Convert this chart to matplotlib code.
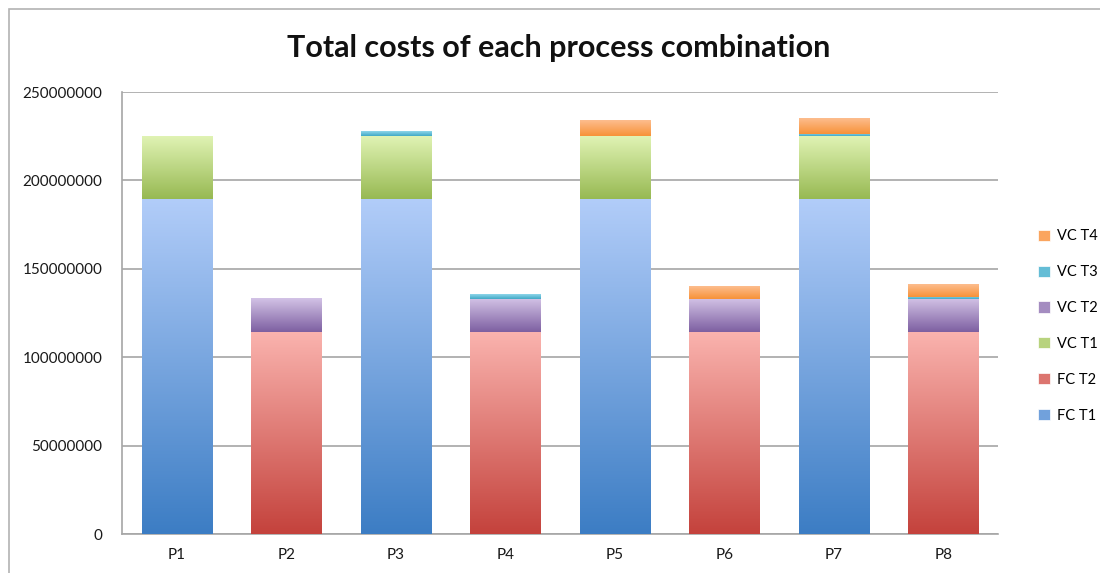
import numpy as np
import matplotlib
matplotlib.use("Agg")
import matplotlib.pyplot as plt
from matplotlib.colors import LinearSegmentedColormap
from matplotlib.patches import Rectangle

plt.rcParams["font.family"] = ["Lato", "DejaVu Sans"]

# Values
processes = ["P1", "P2", "P3", "P4", "P5", "P6", "P7", "P8"]
fc_t1 = [189.5e6, 0, 189.5e6, 0, 189.5e6, 0, 189.5e6, 0]
fc_t2 = [0, 114e6, 0, 114e6, 0, 114e6, 0, 114e6]
vc_t1 = [35.5e6, 0, 35.5e6, 0, 35.5e6, 0, 35.5e6, 0]
vc_t2 = [0, 19e6, 0, 19e6, 0, 19e6, 0, 19e6]
vc_t3 = [0, 0, 2.6e6, 2.3e6, 0, 0, 1.2e6, 1.2e6]
vc_t4 = [0, 0, 0, 0, 8.5e6, 7.0e6, 8.6e6, 7.3e6]

series = [
    ("FC T1", fc_t1, "#3c7dc4", "#b2cdf9"),
    ("FC T2", fc_t2, "#c4423c", "#fab3ae"),
    ("VC T1", vc_t1, "#97b952", "#e0f3b4"),
    ("VC T2", vc_t2, "#7d5fa1", "#d3c3e6"),
    ("VC T3", vc_t3, "#40a9c6", "#8fd6ea"),
    ("VC T4", vc_t4, "#f79238", "#fdbd8e"),
]

fig = plt.figure(figsize=(11, 5.73), dpi=100)
ax = fig.add_axes([122 / 1100, 1 - 534 / 573, 876 / 1100, 442 / 573])

# outer chart border
fig.patches.append(Rectangle((9 / 1100, -0.05), 1.2, 1 - 9 / 573 + 0.05,
                             transform=fig.transFigure, fill=False,
                             edgecolor="#b3b3b3", linewidth=1.2, zorder=0))

x = np.arange(len(processes))
width = 0.64
grad = np.linspace(0, 1, 256).reshape(-1, 1)
bottom = np.zeros(len(processes))
handles = []
for name, vals, dark, light in series:
    vals = np.array(vals, dtype=float)
    cmap = LinearSegmentedColormap.from_list(name, [dark, light])
    for i in range(len(processes)):
        if vals[i] <= 0:
            continue
        ax.imshow(grad, cmap=cmap, origin="lower", aspect="auto",
                  extent=(x[i] - width / 2, x[i] + width / 2, bottom[i], bottom[i] + vals[i]),
                  zorder=3, interpolation="bilinear")
    bottom += vals
    handles.append(Rectangle((0, 0), 1, 1, facecolor=cmap(0.45), edgecolor="white", linewidth=0.5))

ax.set_xlim(-0.5, len(processes) - 0.5)
ax.set_ylim(0, 250e6)
ax.set_yticks(np.arange(0, 250e6 + 1, 50e6))
ax.set_yticklabels([f"{int(v)}" for v in np.arange(0, 250e6 + 1, 50e6)])
ax.set_xticks(x)
ax.set_xticklabels(processes)
ax.tick_params(axis="both", length=0, labelsize=11, colors="#1a1a1a")
ax.tick_params(axis="y", pad=14)
ax.tick_params(axis="x", pad=10)
ax.yaxis.grid(True, color="#a6a6a6", linewidth=1.2, zorder=0)
ax.set_axisbelow(True)
for s in ["top", "right"]:
    ax.spines[s].set_visible(False)
for s in ["left", "bottom"]:
    ax.spines[s].set_color("#a6a6a6")
    ax.spines[s].set_linewidth(1.2)

fig.text(0.508, 1 - 48 / 573, "Total costs of each process combination",
         ha="center", va="center", fontsize=22, fontweight="bold", color="#111111")

leg = fig.legend(handles[::-1], [s[0] for s in series][::-1],
                 loc="center left", bbox_to_anchor=(1025 / 1100, 1 - 326 / 573),
                 frameon=False, fontsize=10.5, handlelength=0.8, handleheight=0.8,
                 labelspacing=1.5, handletextpad=0.5)

fig.savefig("out.png", dpi=100)
